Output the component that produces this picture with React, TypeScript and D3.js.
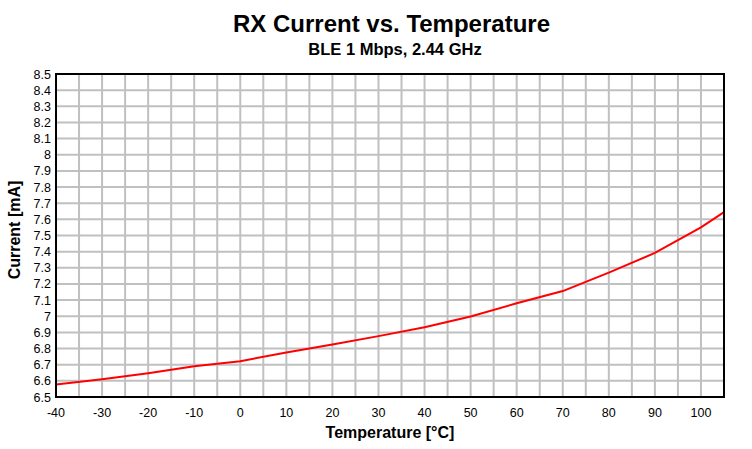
import React from "react";
import * as d3 from "d3";

const temps = [-40, -30, -20, -10, 0, 10, 20, 30, 40, 50, 60, 70, 80, 90, 100, 105];
const current = [6.577, 6.61, 6.647, 6.69, 6.722, 6.775, 6.825, 6.877, 6.932, 6.998, 7.08, 7.156, 7.27, 7.392, 7.55, 7.645];
const xTicks = [-40, -30, -20, -10, 0, 10, 20, 30, 40, 50, 60, 70, 80, 90, 100];
const yTicks = d3.range(0, 21).map((i) => +(6.5 + i * 0.1).toFixed(1));
const xGrid = d3.range(-40, 106, 5);

export default function App() {
  const W = 752, H = 449;
  const left = 56, right = 724, top = 74, bottom = 397;
  const x = d3.scaleLinear().domain([-40, 105]).range([left, right]);
  const y = d3.scaleLinear().domain([6.5, 8.5]).range([bottom, top]);
  const line = d3.line<number>().x((_, i) => x(temps[i])).y((d) => y(d));
  const font = "Liberation Sans, Arial, sans-serif";
  return (
    <svg width={W} height={H} style={{ position: "absolute", left: 0, top: 0, background: "#fff" }} fontFamily={font}>
      <rect x={0} y={0} width={W} height={H} fill="#fff" />
      {xGrid.map((t) => (
        <line key={"gx" + t} x1={x(t)} x2={x(t)} y1={top} y2={bottom} stroke="#c0c0c0" strokeWidth={2} />
      ))}
      {yTicks.map((t) => (
        <line key={"gy" + t} x1={left} x2={right} y1={y(t)} y2={y(t)} stroke="#c0c0c0" strokeWidth={2} />
      ))}
      <path d={line(current) || ""} fill="none" stroke="#ff0000" strokeWidth={2} />
      <rect x={left} y={top} width={right - left} height={bottom - top} fill="none" stroke="#000" strokeWidth={2} />
      {yTicks.map((t) => (
        <text key={"ty" + t} x={51} y={y(t) + 4.5} fontSize={12.5} textAnchor="end" fill="#000">
          {String(t)}
        </text>
      ))}
      {xTicks.map((t) => (
        <text key={"tx" + t} x={x(t)} y={417} fontSize={12.5} textAnchor="middle" fill="#000">
          {String(t)}
        </text>
      ))}
      <text x={391.5} y={32} fontSize={24} fontWeight="bold" textAnchor="middle">RX Current vs. Temperature</text>
      <text x={395} y={55} fontSize={16.5} fontWeight="bold" textAnchor="middle">BLE 1 Mbps, 2.44 GHz</text>
      <text x={390} y={438} fontSize={16} fontWeight="bold" textAnchor="middle">Temperature [°C]</text>
      <text transform={`translate(20,230) rotate(-90)`} fontSize={16} fontWeight="bold" textAnchor="middle">Current [mA]</text>
    </svg>
  );
}
